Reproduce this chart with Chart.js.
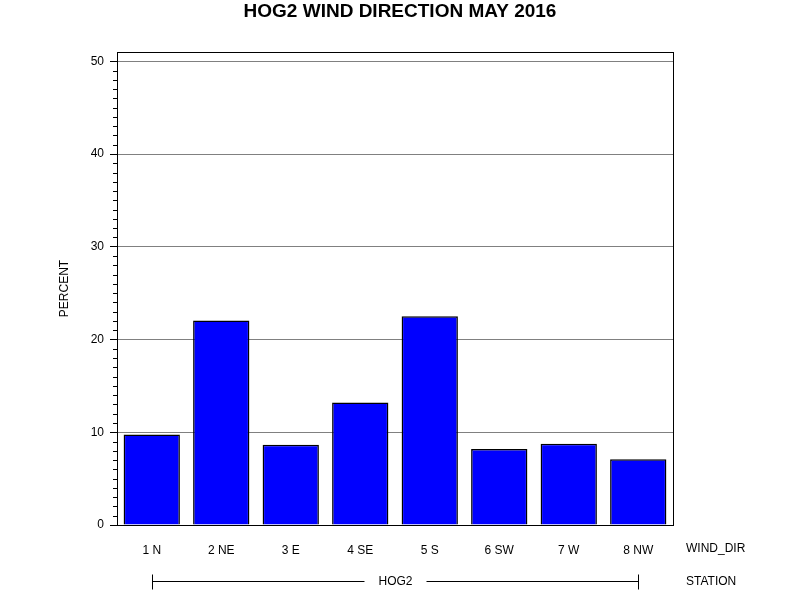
<!DOCTYPE html>
<html>
<head>
<meta charset="utf-8">
<script src="https://cdn.jsdelivr.net/npm/chart.js@4"></script>
<style>
  html, body { margin: 0; padding: 0; background: #fff; }
  #box { width: 800px; height: 600px; }
</style>
</head>
<body>
<div id="box"><canvas id="miGrafica"></canvas></div>
<script>
'use strict'

// DATOS
const direcciones = ['1 N', '2 NE', '3 E', '4 SE', '5 S', '6 SW', '7 W', '8 NW'];
const porcentajes = [9.75, 22.05, 8.65, 13.2, 22.5, 8.2, 8.75, 7.1];
const ticksMayores = [0, 10, 20, 30, 40, 50];
const estacion = 'HOG2';

const FUENTE = '"Liberation Sans", Arial, sans-serif';

// MARCAS MENORES, MARCO Y ETIQUETAS DE ABAJO
const extras = {
  id: 'extras',
  afterDraw(chart) {
    const { ctx, chartArea: a, scales: { x, y } } = chart;
    ctx.save();
    ctx.strokeStyle = '#000';
    ctx.lineWidth = 1;
    // marcas menores
    for (let v = 1; v < 51; v++) {
      if (v % 10 === 0) continue;
      const py = Math.round(y.getPixelForValue(v)) + 0.5;
      ctx.beginPath();
      ctx.moveTo(a.left - 4, py);
      ctx.lineTo(a.left, py);
      ctx.stroke();
    }
    // marco
    ctx.strokeRect(Math.round(a.left) + 0.5, Math.round(a.top) + 0.5,
      Math.round(a.right - a.left), Math.round(a.bottom - a.top));

    // textos de la derecha
    ctx.fillStyle = '#000';
    ctx.font = '12px ' + FUENTE;
    ctx.textBaseline = 'middle';
    ctx.textAlign = 'left';
    ctx.fillText('WIND_DIR', 686, 549);
    ctx.fillText('STATION', 686, 582);

    // corchete de la estacion
    const x0 = Math.round(x.getPixelForValue(0)) + 0.5;
    const x1 = Math.round(x.getPixelForValue(direcciones.length - 1)) + 0.5;
    const yb = 581.5;
    const mid = (x0 + x1) / 2;
    const w = ctx.measureText(estacion).width;
    ctx.beginPath();
    ctx.moveTo(x0, yb - 7); ctx.lineTo(x0, yb + 8);
    ctx.moveTo(x1, yb - 7); ctx.lineTo(x1, yb + 8);
    ctx.moveTo(x0, yb); ctx.lineTo(mid - w / 2 - 14, yb);
    ctx.moveTo(mid + w / 2 + 14, yb); ctx.lineTo(x1, yb);
    ctx.stroke();
    ctx.textAlign = 'center';
    ctx.fillText(estacion, mid, 582);
    ctx.restore();
  }
};

function crearGrafica() {
  const ctx = document.getElementById('miGrafica').getContext('2d');

  new Chart(ctx, {
    type: 'bar',
    data: {
      labels: direcciones,
      datasets: [{
        label: 'PERCENT',
        data: porcentajes,
        backgroundColor: '#0000ff',
        borderColor: '#000',
        borderWidth: 1.5,
        barPercentage: 0.81,
        categoryPercentage: 1
      }]
    },
    options: {
      responsive: true,
      maintainAspectRatio: false,
      animation: false,
      layout: { padding: 0 },
      scales: {
        x: {
          grid: { display: false, drawTicks: false },
          border: { display: false },
          ticks: {
            color: '#000',
            padding: 18,
            maxRotation: 0,
            font: { family: FUENTE, size: 12 }
          },
          afterFit(scale) { scale.height = 75; }
        },
        y: {
          min: 0,
          max: 51,
          afterBuildTicks(scale) {
            scale.ticks = ticksMayores.map(v => ({ value: v }));
          },
          grid: {
            color: ctx => (ctx.tick && ctx.tick.value > 0) ? '#808080' : 'rgba(0,0,0,0)',
            tickColor: '#000',
            tickLength: 7,
            lineWidth: 1
          },
          border: { display: false },
          ticks: {
            color: '#000',
            padding: 6,
            font: { family: FUENTE, size: 12 }
          },
          title: {
            display: true,
            text: 'PERCENT',
            color: '#000',
            padding: { top: 57, bottom: 0 },
            font: { family: FUENTE, size: 12 }
          },
          afterFit(scale) { scale.width = 117; }
        },
        // eje vacio a la derecha, solo reserva el hueco
        derecha: {
          position: 'right',
          display: true,
          grid: { display: false, drawTicks: false },
          border: { display: false },
          ticks: { display: false },
          afterFit(scale) { scale.width = 127; }
        }
      },
      plugins: {
        legend: { display: false },
        tooltip: { enabled: false },
        title: {
          display: true,
          text: 'HOG2 WIND DIRECTION MAY 2016',
          color: '#000',
          padding: { top: 0.6, bottom: 28.6 },
          font: { family: FUENTE, size: 19, weight: 'bold' }
        }
      }
    },
    plugins: [extras]
  });
}

crearGrafica();
</script>
</body>
</html>
